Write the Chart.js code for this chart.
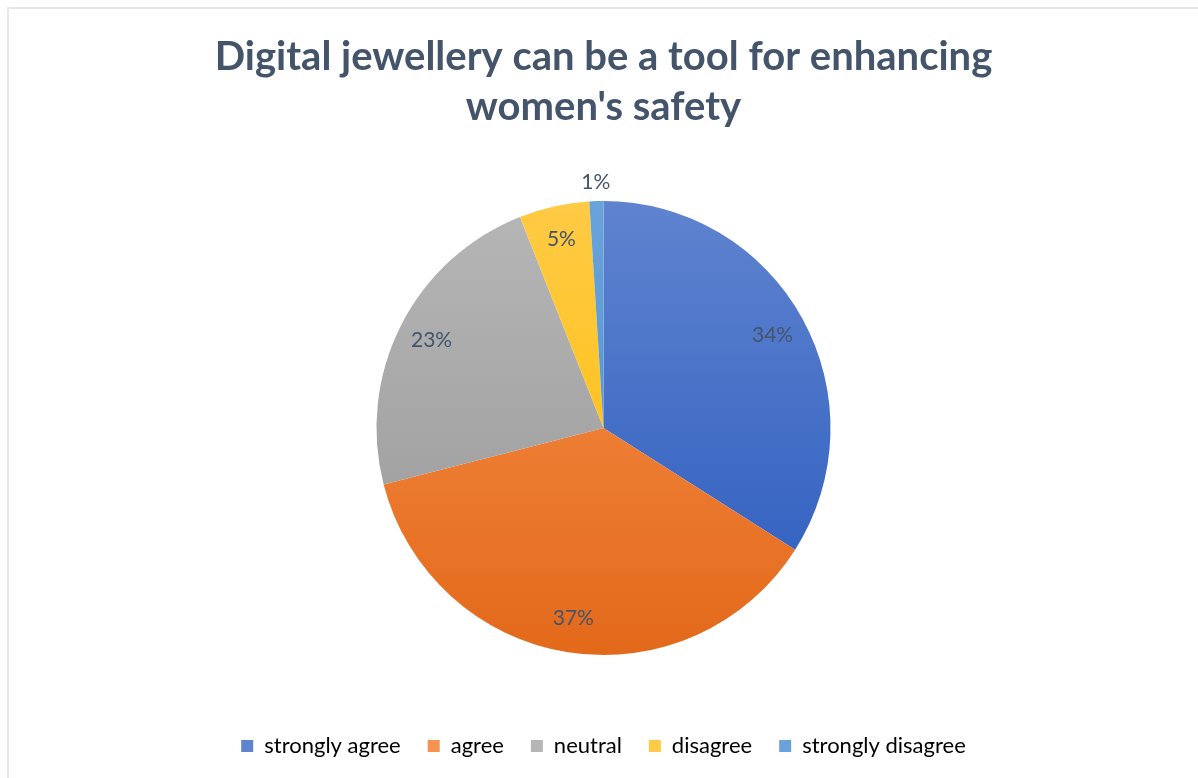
<!DOCTYPE html>
<html>
<head>
<meta charset="utf-8">
<title>Digital jewellery survey</title>
<script src="https://cdn.jsdelivr.net/npm/chart.js@4.4.1/dist/chart.umd.min.js"></script>
<style>
  html, body { margin: 0; padding: 0; background: #ffffff; }
  #wrap { position: relative; width: 1198px; height: 778px; }
  canvas { display: block; }
</style>
</head>
<body>
<div id="wrap"><canvas id="chart" width="1198" height="778"></canvas></div>
<script>
// Survey responses (share of respondents, %)
const categories = ['strongly agree', 'agree', 'neutral', 'disagree', 'strongly disagree'];
const shares = [34, 37, 23, 5, 1];
const titleLines = ['Digital jewellery can be a tool for enhancing', "women's safety"];

// Light (top) and dark (bottom) stops of each slice's vertical gradient
const gradientTop = ['#5f83cf', '#f8934f', '#b6b6b6', '#ffca45', '#69a3da'];
const gradientBottom = ['#2a5bbe', '#e3691a', '#979797', '#fdbd00', '#4a8ccc'];

const textColor = '#44546A';
const baseFont = "Lato, 'Open Sans', sans-serif";

function sliceFill(ctx) {
  const chart = ctx.chart;
  const area = chart.chartArea;
  const i = ctx.dataIndex;
  if (!area) return gradientTop[i];
  const meta = chart.getDatasetMeta(0);
  const arc = meta.data[i];
  const cy = arc && arc.y ? arc.y : (area.top + area.bottom) / 2;
  const r = arc && arc.outerRadius ? arc.outerRadius : 227;
  const g = chart.ctx.createLinearGradient(0, cy - r, 0, cy + r);
  g.addColorStop(0, gradientTop[i]);
  g.addColorStop(1, gradientBottom[i]);
  return g;
}

// Thin frame around the chart
const framePlugin = {
  id: 'frame',
  beforeDraw(chart) {
    const c = chart.ctx;
    c.save();
    c.strokeStyle = '#e4e7ec';
    c.lineWidth = 2;
    c.strokeRect(8, 8, chart.width + 20, chart.height + 20);
    c.restore();
  }
};

// Percentage labels: inside larger slices, just outside very thin ones
const sliceLabels = {
  id: 'sliceLabels',
  afterDatasetsDraw(chart) {
    const c = chart.ctx;
    const meta = chart.getDatasetMeta(0);
    const data = chart.data.datasets[0].data;
    const total = data.reduce((a, b) => a + b, 0);
    c.save();
    c.font = '21px ' + baseFont;
    c.fillStyle = textColor;
    c.textAlign = 'center';
    c.textBaseline = 'middle';
    meta.data.forEach((arc, i) => {
      const p = data[i] / total;
      const mid = (arc.startAngle + arc.endAngle) / 2;
      const rr = p < 0.02 ? arc.outerRadius * 1.085 : arc.outerRadius * 0.85;
      const x = arc.x + Math.cos(mid) * rr;
      const y = arc.y + Math.sin(mid) * rr;
      c.fillText(Math.round(p * 100) + '%', x, y);
    });
    c.restore();
  }
};

new Chart(document.getElementById('chart'), {
  type: 'pie',
  data: {
    labels: categories,
    datasets: [{
      data: shares,
      backgroundColor: sliceFill,
      borderWidth: 0,
      radius: 227
    }]
  },
  options: {
    responsive: false,
    animation: false,
    events: [],
    layout: { padding: { top: 12, bottom: 11, left: 9, right: 0 } },
    plugins: {
      title: {
        display: true,
        text: titleLines,
        color: textColor,
        font: { family: baseFont, size: 40, weight: 'bold', lineHeight: 1.25 },
        padding: { top: 20, bottom: 16 }
      },
      legend: {
        position: 'bottom',
        labels: {
          boxWidth: 12,
          boxHeight: 12,
          padding: 27,
          color: textColor,
          font: { family: baseFont, size: 22 },
          generateLabels() {
            return categories.map((name, i) => ({
              text: name,
              fillStyle: gradientTop[i],
              strokeStyle: 'rgba(0,0,0,0)',
              lineWidth: 0,
              index: i,
              hidden: false
            }));
          }
        }
      },
      tooltip: { enabled: false }
    }
  },
  plugins: [framePlugin, sliceLabels]
});
</script>
</body>
</html>
